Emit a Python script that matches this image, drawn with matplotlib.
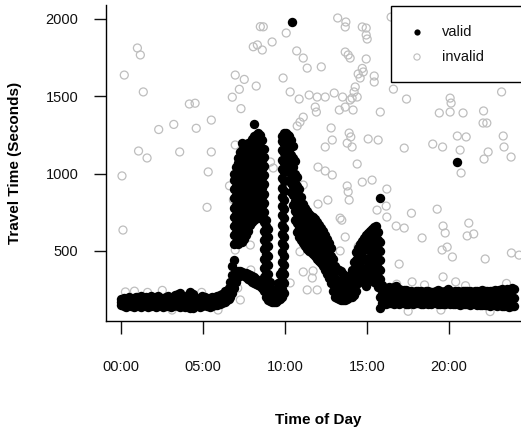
import matplotlib
matplotlib.use("Agg")
import matplotlib.pyplot as plt
from matplotlib.patches import Rectangle

# ---- valid travel times (hours of day, seconds) ----
# night: low, middle and high point per time column
night_h = [0.0, 0.15, 0.3, 0.45, 0.6, 0.75, 0.9, 1.05, 1.2, 1.35, 1.5, 1.65, 1.8, 1.95, 2.1,
           2.25, 2.4, 2.55, 2.7, 2.85, 3.0, 3.15, 3.3, 3.45, 3.6, 3.75, 3.9, 4.05, 4.2, 4.35,
           4.5, 4.65, 4.8, 4.95, 5.1, 5.25, 5.4, 5.55, 5.7, 5.85, 6.0, 6.15, 6.3]
night_lo = [150, 145, 140, 148, 142, 138, 146, 144, 140, 150, 141, 136, 144, 150, 140,
            145, 148, 140, 143, 150, 138, 145, 148, 144, 140, 146, 140, 135, 128, 134,
            144, 148, 140, 145, 150, 144, 140, 145, 150, 152, 156, 162, 170]
night_mid = [172, 170, 166, 175, 165, 168, 176, 168, 175, 174, 170, 164, 175, 174, 171,
             178, 171, 165, 172, 178, 168, 170, 180, 182, 184, 174, 169, 173, 180, 177,
             171, 170, 168, 176, 175, 168, 168, 175, 175, 181, 185, 193, 205]
night_hi = [192, 198, 190, 200, 188, 196, 205, 192, 210, 198, 200, 192, 206, 198, 202,
            210, 194, 188, 202, 206, 198, 194, 212, 220, 225, 202, 198, 212, 232, 220,
            198, 192, 196, 206, 200, 192, 196, 204, 200, 210, 214, 224, 240]

# morning peak
am_h = [6.42, 6.54, 6.66, 6.78, 6.9, 7.02, 7.14, 7.26, 7.38, 7.5, 7.62, 7.74, 7.86, 7.98, 8.1,
        8.22, 8.34, 8.46, 8.58, 8.7, 8.82, 8.94, 9.06, 9.18, 9.3, 9.42, 9.54, 9.66, 9.78, 9.9]
am_s = [
    [180, 225],
    [190, 262],
    [205, 300],
    [225, 345, 400],
    [260, 330, 440, 545, 600, 660, 720, 780, 840, 900, 960, 1000],
    [300, 352, 560, 620, 680, 740, 800, 860, 920, 980, 1040],
    [330, 370, 545, 600, 655, 715, 770, 830, 890, 950, 1010, 1070, 1100],
    [345, 372, 555, 615, 675, 735, 795, 855, 915, 975, 1035, 1095, 1140],
    [350, 365, 560, 625, 690, 750, 810, 870, 930, 990, 1050, 1110, 1150, 1195],
    [340, 360, 580, 640, 700, 760, 820, 880, 940, 1000, 1060, 1120, 1165],
    [330, 355, 600, 660, 720, 780, 840, 900, 960, 1020, 1080, 1140, 1180],
    [320, 350, 630, 690, 750, 810, 870, 930, 990, 1050, 1110, 1170, 1195],
    [310, 345, 665, 720, 780, 840, 900, 960, 1020, 1080, 1140, 1200],
    [300, 338, 690, 745, 805, 865, 925, 985, 1045, 1105, 1165, 1222],
    [290, 330, 700, 760, 820, 880, 940, 1000, 1060, 1120, 1180, 1240],
    [284, 320, 710, 770, 830, 890, 950, 1010, 1070, 1130, 1190, 1250],
    [278, 305, 715, 775, 835, 895, 955, 1015, 1075, 1135, 1195, 1262],
    [272, 295, 725, 785, 845, 905, 965, 1025, 1085, 1145, 1205, 1250],
    [262, 288, 735, 790, 850, 910, 970, 1030, 1090, 1150, 1215],
    [240, 275, 330, 390, 450, 510, 570, 630, 690, 750, 810, 870, 930, 990, 1050, 1110, 1160],
    [205, 255, 300, 360, 420, 480, 540, 600, 660, 700],
    [185, 235, 290, 350, 410, 470, 530, 590, 640],
    [175, 215, 265, 300],
    [170, 205, 245],
    [168, 200, 240],
    [172, 210, 255],
    [180, 230, 290],
    [190, 240, 300, 350],
    [200, 255, 310, 370, 430, 490, 550, 610, 670, 730, 790, 850, 910, 970, 1030, 1090, 1150, 1210, 1240],
    [230, 290, 350, 410, 470, 530, 590, 650, 710, 770, 830, 890, 950, 1010, 1070, 1130, 1190, 1262],
]

# late morning decline, midday dip and afternoon hump
pm_h = [10.02, 10.14, 10.26, 10.38, 10.5, 10.62, 10.74, 10.86, 10.98, 11.1, 11.22, 11.34, 11.46,
        11.58, 11.7, 11.82, 11.94, 12.06, 12.18, 12.3, 12.42, 12.54, 12.66, 12.78, 12.9, 13.02,
        13.14, 13.26, 13.38, 13.5, 13.62, 13.74, 13.86, 13.98, 14.1, 14.22, 14.34, 14.46, 14.58,
        14.7, 14.82, 14.94, 15.06, 15.18, 15.3, 15.42, 15.54, 15.66, 15.78, 15.9]
pm_s = [
    [1080, 1140, 1200, 1262],
    [1050, 1110, 1170, 1250],
    [960, 1020, 1080, 1140, 1200, 1240],
    [880, 940, 1000, 1060, 1120, 1180, 1215],
    [800, 860, 920, 980, 1040, 1100, 1180],
    [700, 760, 820, 880, 940, 1000, 1080],
    [620, 680, 740, 800, 860, 920, 980],
    [590, 650, 710, 770, 830, 900],
    [570, 630, 690, 750, 810, 850],
    [550, 610, 670, 730, 805],
    [530, 590, 650, 710, 775],
    [515, 575, 635, 695, 755],
    [500, 560, 620, 680, 740],
    [490, 550, 610, 670, 728],
    [478, 538, 598, 658, 718],
    [465, 525, 585, 645, 705],
    [450, 510, 570, 630, 688],
    [435, 495, 555, 615, 668],
    [420, 480, 540, 600, 650],
    [400, 460, 520, 580, 628],
    [378, 438, 498, 558, 605],
    [352, 412, 472, 532, 580],
    [325, 385, 445, 505, 552],
    [290, 350, 410, 470, 520],
    [240, 300, 360, 410, 450],
    [205, 265, 325, 370, 400],
    [195, 250, 310, 385],
    [190, 245, 300, 378],
    [186, 240, 300, 370],
    [185, 240, 295, 350],
    [186, 250, 320],
    [190, 250, 310],
    [195, 255, 320],
    [200, 260, 345],
    [205, 265, 330, 375],
    [215, 280, 350, 430],
    [240, 300, 370, 440, 490],
    [290, 350, 410, 470, 520],
    [310, 370, 430, 490, 545],
    [320, 380, 440, 500, 565],
    [325, 385, 445, 505, 585],
    [330, 390, 450, 510, 570, 600],
    [330, 390, 450, 510, 570, 615],
    [320, 380, 440, 500, 560, 630],
    [310, 370, 430, 490, 550, 610, 645],
    [300, 360, 420, 480, 540, 600, 658],
    [290, 350, 410, 470, 530, 590, 660],
    [270, 330, 390, 450, 510, 570, 620],
    [200, 260, 320, 380, 440, 500, 560],
    [165, 220, 280],
]

# evening: low, middle and high point per time column
eve_h = [16.02, 16.17, 16.32, 16.47, 16.62, 16.77, 16.92, 17.07, 17.22, 17.37, 17.52, 17.67,
         17.82, 17.97, 18.12, 18.27, 18.42, 18.57, 18.72, 18.87, 19.02, 19.17, 19.32, 19.47,
         19.62, 19.77, 19.92, 20.07, 20.22, 20.37, 20.52, 20.67, 20.82, 20.97, 21.12, 21.27,
         21.42, 21.57, 21.72, 21.87, 22.02, 22.17, 22.32, 22.47, 22.62, 22.77, 22.92, 23.07,
         23.22, 23.37, 23.52, 23.67, 23.82, 23.97]
eve_lo = [160, 158, 165, 162, 160, 166, 158, 162, 165, 160, 158, 163, 160, 165, 162, 158, 160, 164,
          160, 158, 162, 165, 160, 158, 155, 160, 162, 158, 155, 160, 158, 152, 156, 160, 155, 150,
          156, 158, 152, 150, 148, 152, 150, 146, 150, 148, 145, 150, 146, 142, 145, 140, 142, 145]
eve_mid = [205, 210, 215, 208, 212, 218, 206, 205, 207, 202, 199, 200, 198, 203, 200, 199, 197, 202,
           199, 195, 199, 202, 202, 198, 196, 200, 208, 199, 196, 199, 200, 194, 198, 199, 200, 195,
           196, 200, 195, 195, 197, 196, 194, 195, 195, 198, 194, 198, 199, 195, 200, 195, 200, 198]
eve_hi = [250, 262, 270, 258, 265, 272, 255, 248, 250, 245, 240, 238, 236, 242, 238, 240, 235, 240,
          238, 232, 236, 240, 245, 238, 236, 240, 255, 240, 236, 238, 242, 236, 240, 238, 244, 240,
          236, 242, 238, 240, 246, 240, 238, 244, 240, 248, 242, 246, 252, 248, 255, 250, 258, 252]

# isolated valid readings
iso_h = [8.09, 10.43, 20.49, 15.8, 14.9, 15.8]
iso_s = [1320, 1980, 1075, 841, 273, 130]

# ---- invalid travel times ----
inv_h = [0.98, 1.16, 0.18, 1.34, 4.15, 4.5, 2.28, 3.2, 4.57, 5.49, 1.05, 1.57, 3.56, 5.49, 5.3,
         0.04, 5.23, 6.6, 6.84, 6.95, 7.5, 7.2, 6.77, 7.3, 8.23, 8.05, 8.3, 6.95, 7.26, 8.48, 0.1,
         8.66, 10.06, 9.2, 8.6, 10.7, 11.1, 11.34, 12.2, 9.87, 13.2, 13.7, 13.66, 14.7, 14.94,
         14.94, 15.0, 16.46, 13.66, 13.84, 13.96, 14.94, 14.7, 14.76, 14.45, 14.57, 15.43, 15.43,
         14.27, 14.2, 14.39, 14.08, 10.3, 10.85, 11.46, 11.95, 12.44, 12.99, 13.5, 13.96, 13.66,
         14.14, 11.83, 11.9, 13.3, 11.1, 10.9, 10.73, 15.8, 16.6, 17.4, 20.06, 20.12, 19.4, 20.06,
         20.85, 22.1, 22.07, 22.3, 23.2, 12.8, 13.9, 14.0, 15.06, 15.67, 12.87, 12.44, 13.78,
         14.08, 17.26, 19.0, 19.6, 20.5, 21.04, 20.67, 23.3, 23.35, 23.78, 22.38, 22.13, 20.73,
         14.39, 12.0, 12.44, 12.87, 11.1, 13.78, 13.84, 14.7, 15.3, 16.2, 12.6, 12.0, 17.7,
         19.27, 15.6, 16.16, 13.9, 13.35, 13.45, 16.2, 16.77, 17.26, 18.35, 19.63, 19.76, 21.2,
         21.5, 21.1, 19.57, 19.88, 20.2, 22.2, 23.8, 16.95, 17.74, 19.63, 20.4, 13.66, 13.35,
         14.45, 11.1, 11.65, 11.34, 11.95, 10.3, 10.9, 11.7, 9.1, 9.27, 7.87, 7.9, 6.95, 7.26,
         7.1, 0.25, 0.8, 1.6, 2.5, 3.1, 4.9, 5.9, 16.8, 18.5, 19.5, 21.0, 22.5, 23.5, 17.5, 24.27]
inv_s = [1812, 1767, 1637, 1528, 1450, 1455, 1285, 1318, 1293, 1346, 1146, 1101, 1140, 1140, 1011,
         985, 782, 921, 830, 1637, 1609, 1545, 1494, 1420, 1566, 1820, 1832, 1185, 1140, 1950, 635,
         1949, 1909, 1851, 1799, 1793, 1747, 1682, 1690, 1618, 2006, 1980, 1948, 1948, 1941,
         1896, 1870, 2012, 1786, 1767, 1747, 1741, 1680, 1657, 1644, 1618, 1631, 1592,
         1560, 1528, 1495, 1488, 1528, 1482, 1508, 1495, 1495, 1521, 1495, 1476, 1430,
         1411, 1430, 1398, 1411, 1365, 1333, 1308, 1398, 1546, 1482, 1488, 1456, 1392, 1398,
         1392, 1405, 1327, 1327, 1528, 1295, 1262, 1237, 1224, 1217, 1217, 1172, 1197,
         1172, 1165, 1191, 1172, 1243, 1237, 1152, 1243, 1172, 1107, 1140, 1094, 1004,
         1062, 1042, 1017, 991, 926, 920, 882, 945, 958, 900, 829, 803, 744,
         770, 764, 790, 829, 712, 699, 719, 661, 648, 584, 661, 616, 680,
         610, 597, 506, 525, 461, 448, 487, 415, 300, 332, 300, 590, 500,
         528, 364, 325, 248, 248, 293, 495, 371, 1075, 1036, 538, 377, 506, 183,
         260, 235, 240, 232, 245, 118, 232, 118, 285, 280, 118, 275, 108, 290, 110, 473]

x_ticks = [0, 5, 10, 15, 20]
x_labels = ["00:00", "05:00", "10:00", "15:00", "20:00"]
y_ticks = [500, 1000, 1500, 2000]
legend_labels = ["valid", "invalid"]

plt.rcParams["font.family"] = ["Liberation Sans", "DejaVu Sans"]

W, H = 521, 432
# plot region in pixels (left, right, top, bottom)
PL, PR, PT, PB = 105.6, 530.1, 5.0, 320.7


def main():
    valid_h, valid_s = [], []
    for h, lo, mid, hi in zip(night_h, night_lo, night_mid, night_hi):
        valid_h += [h, h, h]
        valid_s += [lo, mid, hi]
    for hours, cols in ((am_h, am_s), (pm_h, pm_s)):
        for h, col in zip(hours, cols):
            valid_h += [h] * len(col)
            valid_s += col
    for h, lo, mid, hi in zip(eve_h, eve_lo, eve_mid, eve_hi):
        valid_h += [h, h, h]
        valid_s += [lo, mid, hi]
    valid_h += iso_h
    valid_s += iso_s

    fig = plt.figure(figsize=(W / 100, H / 100), dpi=100)
    ax = fig.add_axes([PL / W, 1 - PB / H, (PR - PL) / W, (PB - PT) / H])

    ax.scatter(inv_h, inv_s, s=33, facecolors="none", edgecolors="#bebebe", linewidths=0.9)
    ax.scatter(valid_h, valid_s, s=46, c="black", linewidths=0)

    ax.set_xlim(-0.96, 24.94)
    ax.set_ylim(49, 2090)
    for side in ("top", "right"):
        ax.spines[side].set_visible(False)
    for side in ("left", "bottom"):
        ax.spines[side].set_linewidth(1.0)

    ax.set_xticks(x_ticks)
    ax.set_xticklabels(x_labels)
    ax.set_yticks(y_ticks)
    ax.tick_params(length=9, width=1.0, labelsize=10.5, colors="#111111")
    ax.tick_params(axis="x", pad=19.5)
    ax.tick_params(axis="y", pad=10.5)

    ax.set_xlabel("Time of Day", fontsize=11, fontweight="bold", va="center")
    ax.xaxis.set_label_coords(0.5, -0.3145)
    ax.set_ylabel("Travel Time (Seconds)", fontsize=11, fontweight="bold", va="center")
    ax.yaxis.set_label_coords(-0.2146, 0.501)

    # legend box, R style: runs off the right edge of the picture
    def axfrac(px, py):
        return (px - PL) / (PR - PL), (PB - py) / (PB - PT)

    x0, y0 = axfrac(391, 82)
    x1, y1 = axfrac(540, 6)
    ax.add_patch(Rectangle((x0, y0), x1 - x0, y1 - y0, transform=ax.transAxes,
                           facecolor="white", edgecolor="black", linewidth=1.0,
                           clip_on=False, zorder=4))
    styles = [dict(c="black", linewidths=0),
              dict(facecolors="none", edgecolors="#bebebe", linewidths=0.8)]
    for row, (label, style) in enumerate(zip(legend_labels, styles)):
        mx, my = axfrac(417, 32 + 25 * row)
        tx, _ = axfrac(442, 0)
        ax.scatter([mx], [my], s=20, transform=ax.transAxes, clip_on=False, zorder=5, **style)
        ax.text(tx, my, label, transform=ax.transAxes, fontsize=10.5, va="center",
                ha="left", color="#111111", zorder=5)

    fig.savefig("out.png", dpi=100)


if __name__ == "__main__":
    main()
